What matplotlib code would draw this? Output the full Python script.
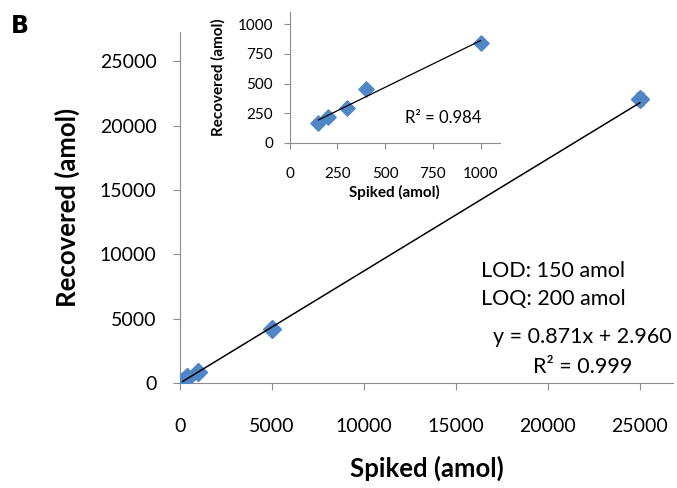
import numpy as np
import matplotlib
matplotlib.use("Agg")
import matplotlib.pyplot as plt

plt.rcParams["font.family"] = ["Lato", "DejaVu Sans"]

# main calibration curve
spiked = [150, 200, 300, 400, 1000, 5000, 25000]
recovered = [170, 220, 290, 450, 845, 4200, 22050]
recovered_err = [0, 0, 0, 0, 0, 0, 450]
slope, intercept = 0.871, 2.960

# inset (low range)
inset_spiked = [150, 200, 300, 400, 1000]
inset_recovered = [172, 218, 298, 455, 845]

x_ticks = [0, 5000, 10000, 15000, 20000, 25000]
y_ticks = [0, 5000, 10000, 15000, 20000, 25000]
inset_ticks = [0, 250, 500, 750, 1000]

blue = "#4F86C6"
grey = "#8C8C8C"

fig = plt.figure(figsize=(6.77, 4.88), dpi=100)
ax = fig.add_axes([0.266, 0.215, 0.728, 0.72])

ax.errorbar(spiked, recovered, yerr=recovered_err, fmt="D", color=blue,
            markersize=9, ecolor="black", elinewidth=1, capsize=3, zorder=3)
xl = np.array([spiked[0], spiked[-1]])
ax.plot(xl, slope * xl + intercept, color="black", lw=1.1, zorder=4)

ax.set_xlim(0, 26800)
ax.set_ylim(0, 27300)
ax.set_xticks(x_ticks)
ax.set_yticks(y_ticks)
ax.tick_params(axis="both", colors=grey, labelcolor="black", labelsize=14, length=5)
ax.tick_params(axis="x", pad=20)
ax.tick_params(axis="y", pad=12)
for s in ["top", "right"]:
    ax.spines[s].set_visible(False)
for s in ["left", "bottom"]:
    ax.spines[s].set_color(grey)
ax.set_xlabel("Spiked (amol)", fontsize=18.5, fontweight="bold", labelpad=15)
ax.set_ylabel("Recovered (amol)", fontsize=18.5, fontweight="bold", labelpad=14)

ax.text(0.61, 0.32, "LOD: 150 amol", transform=ax.transAxes, fontsize=15.5, va="center")
ax.text(0.61, 0.24, "LOQ: 200 amol", transform=ax.transAxes, fontsize=15.5, va="center")
ax.text(0.997, 0.13, "y = 0.871x + 2.960", transform=ax.transAxes, fontsize=15.5,
        ha="right", va="center")
ax.text(0.817, 0.046, "R² = 0.999", transform=ax.transAxes, fontsize=15.5,
        ha="center", va="center")

fig.text(0.016, 0.932, "B", fontsize=17, fontweight="bold", family=["DejaVu Sans"])

# inset
ins = fig.add_axes([0.428, 0.707, 0.31, 0.268])
ins.scatter(inset_spiked, inset_recovered, marker="D", color=blue, s=60, zorder=3)
b, a = np.polyfit(inset_spiked, inset_recovered, 1)
xi = np.array([inset_spiked[0], inset_spiked[-1]])
ins.plot(xi, b * xi + a, color="black", lw=0.9, zorder=4)
ins.set_xlim(0, 1100)
ins.set_ylim(0, 1100)
ins.set_xticks(inset_ticks)
ins.set_yticks(inset_ticks)
ins.tick_params(axis="both", colors=grey, labelcolor="black", labelsize=11, length=4)
ins.tick_params(axis="x", pad=13)
ins.tick_params(axis="y", pad=8)
for s in ["top", "right"]:
    ins.spines[s].set_visible(False)
for s in ["left", "bottom"]:
    ins.spines[s].set_color(grey)
ins.set_xlabel("Spiked (amol)", fontsize=11, fontweight="bold", labelpad=3)
ins.set_ylabel("Recovered (amol)", fontsize=11, fontweight="bold", labelpad=9)
ins.text(0.55, 0.19, "R² = 0.984", transform=ins.transAxes, fontsize=12, va="center")

fig.savefig("out.png", dpi=100)
